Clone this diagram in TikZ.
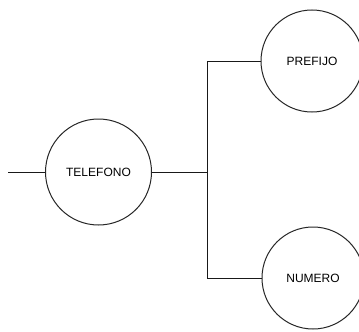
\documentclass[tikz,border=0pt]{standalone}
\usepackage{fontspec}
\setmainfont{Liberation Sans}
\tikzset{
    attr/.style={draw=black!85, circle, inner sep=0pt, font=\fontsize{12}{14}\selectfont},
    link/.style={draw=black!90, line width=1pt}
}
\begin{document}
\begin{tikzpicture}[x=1pt, y=-1pt, line width=1pt]
        \useasboundingbox (0, 0) rectangle (359, 332);

        % Draw the entity and its attributes
        \node[attr, minimum size=106] (telefono) at (98.5, 172) {TELEFONO};
        \node[attr, minimum size=102] (prefijo) at (312, 61) {PREFIJO};
        \node[attr, minimum size=102] (numero) at (313, 278) {NUMERO};

        % Free end on the left
        \coordinate (entrada) at (8, 172);
        \coordinate (bus) at (207, 172);

        % Draw the connectors
        \draw[link] (entrada) -- (telefono.west);
        \draw[link] (telefono.east) -- (bus);
        \draw[link] (bus) |- (prefijo.west);
        \draw[link] (bus) |- (numero.west);
    \end{tikzpicture}
\end{document}
